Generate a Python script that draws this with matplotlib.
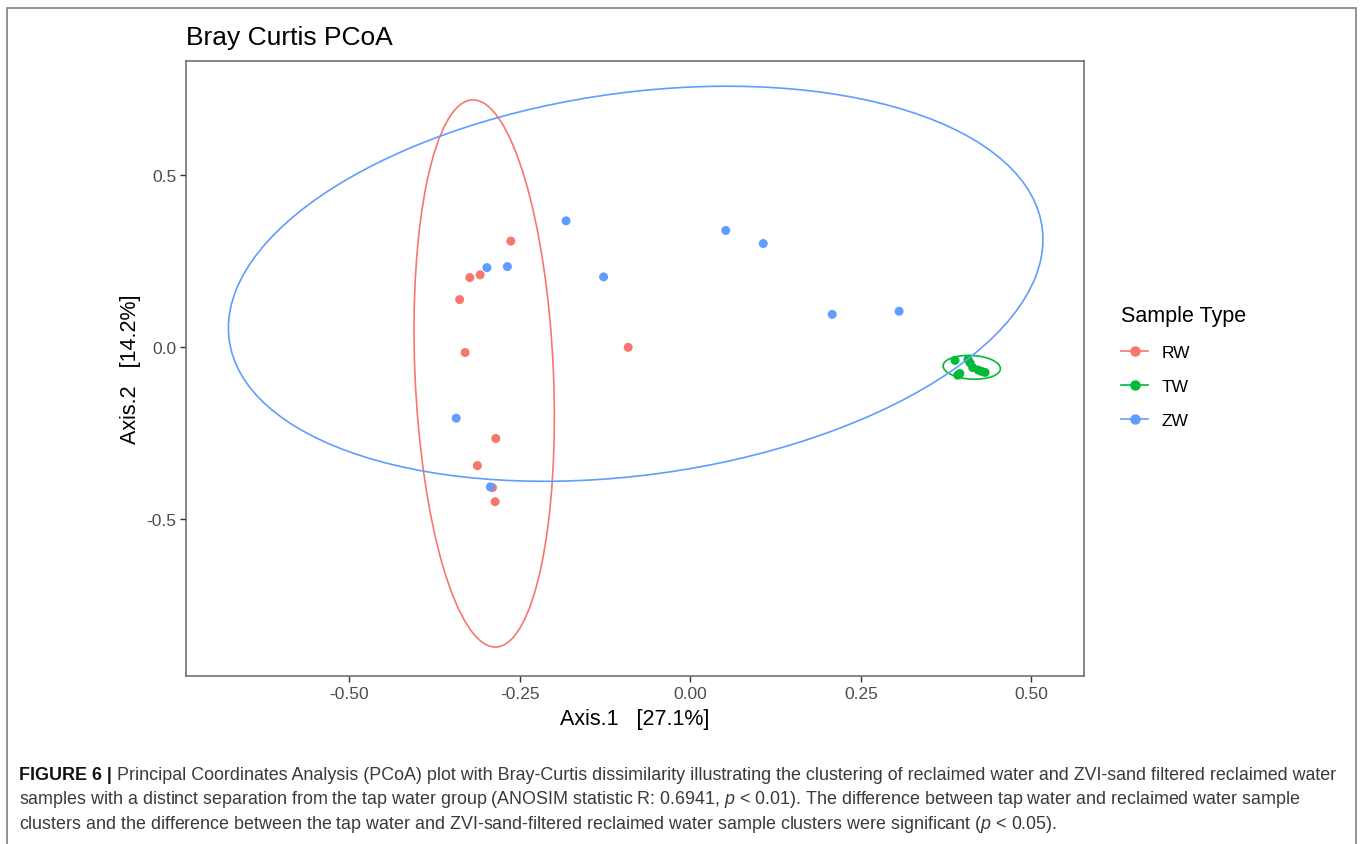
import matplotlib
matplotlib.use("Agg")
import matplotlib.pyplot as plt
from matplotlib.patches import Ellipse, Rectangle
from matplotlib.lines import Line2D

plt.rcParams['font.family'] = ['Liberation Sans', 'DejaVu Sans']
plt.rcParams['mathtext.fontset'] = 'custom'
plt.rcParams['mathtext.it'] = 'Liberation Sans:italic'
plt.rcParams['mathtext.rm'] = 'Liberation Sans'

# sample coordinates
rw_x = [-0.263, -0.323, -0.308, -0.338, -0.330, -0.091, -0.285, -0.312, -0.290, -0.286]
rw_y = [0.307, 0.201, 0.209, 0.137, -0.017, -0.002, -0.267, -0.346, -0.410, -0.451]
tw_x = [0.388, 0.392, 0.395, 0.407, 0.410, 0.414, 0.422, 0.427, 0.432]
tw_y = [-0.040, -0.083, -0.078, -0.037, -0.047, -0.061, -0.068, -0.072, -0.075]
zw_x = [-0.182, -0.298, -0.268, -0.127, -0.343, -0.293, 0.052, 0.107, 0.208, 0.306]
zw_y = [0.366, 0.230, 0.233, 0.203, -0.208, -0.408, 0.338, 0.300, 0.094, 0.103]

groups = ['RW', 'TW', 'ZW']
colors = ['#F8766D', '#00BA38', '#619CFF']

# 95% ellipses: centre x, centre y, width, height, angle
ell_cx = [-0.302, 0.4125, -0.080]
ell_cy = [-0.078, -0.060, 0.183]
ell_w = [1.592, 0.085, 1.298]
ell_h = [0.203, 0.068, 1.030]
ell_ang = [91.2, -15, 40.2]

x_ticks = [-0.50, -0.25, 0.00, 0.25, 0.50]
y_ticks = [-0.5, 0.0, 0.5]

W, H = 1360, 845
fig = plt.figure(figsize=(W / 100, H / 100), dpi=100)

# outer frame of the figure box
fig.patches.append(Rectangle((7 / W, -0.01), (1356 - 7) / W, 1.01 - 9 / H,
                             transform=fig.transFigure, fill=False,
                             edgecolor='#7f7f7f', lw=1.2))

ax = fig.add_axes([186 / W, (H - 677) / H, (1084 - 186) / W, (677 - 62) / H])

for xs, ys, c in zip([rw_x, tw_x, zw_x], [rw_y, tw_y, zw_y], colors):
    ax.scatter(xs, ys, s=42, color=c, edgecolors='none', zorder=3)

for i in range(3):
    ax.add_patch(Ellipse((ell_cx[i], ell_cy[i]), ell_w[i], ell_h[i], angle=ell_ang[i],
                         fill=False, edgecolor=colors[i], lw=1.2, zorder=4))

ax.set_xlim(-0.739, 0.577)
ax.set_ylim(-0.958, 0.831)
ax.set_xticks(x_ticks)
ax.set_xticklabels(['%.2f' % v for v in x_ticks])
ax.set_yticks(y_ticks)
ax.set_yticklabels(['%.1f' % v for v in y_ticks])
ax.tick_params(length=4, width=1, color='#333333', labelcolor='#4D4D4D',
               labelsize=12.5, pad=3)
for sp in ax.spines.values():
    sp.set_color('#666666')
    sp.set_linewidth(1.1)

ax.set_xlabel('Axis.1   [27.1%]', fontsize=15.5, labelpad=5)
ax.set_ylabel('Axis.2   [14.2%]', fontsize=15.5, labelpad=4)

fig.text(186 / W, 1 - 45 / H, 'Bray Curtis PCoA', fontsize=19, va='baseline')

handles = [Line2D([0], [0], color=c, marker='o', markersize=6.5, lw=1.2) for c in colors]
leg = fig.legend(handles, groups, title='Sample Type', loc='upper left',
                 bbox_to_anchor=(1112 / W, 1 - 297 / H), frameon=False,
                 fontsize=12.5, title_fontsize=15.5, handlelength=1.6,
                 handletextpad=0.75, labelspacing=1.1, borderpad=0,
                 alignment='left')

# caption
cap_color = '#3a3a3a'
cap_lines = [
    'Principal Coordinates Analysis (PCoA) plot with Bray-Curtis dissimilarity illustrating the clustering of reclaimed water and ZVI-sand filtered reclaimed water',
    'samples with a distinct separation from the tap water group (ANOSIM statistic R: 0.6941, $p$ < 0.01). The difference between tap water and reclaimed water sample',
    'clusters and the difference between the tap water and ZVI-sand-filtered reclaimed water sample clusters were significant ($p$ < 0.05).',
]
cap_y = [776, 800, 825]
fs = 11
r = fig.canvas.get_renderer()
head = fig.text(19 / W, 1 - cap_y[0] / H, 'FIGURE 6 |', fontsize=fs, fontweight='bold',
                va='center', color='#111111')
t1 = fig.text(0, 1 - cap_y[0] / H, cap_lines[0], fontsize=fs, va='center', color=cap_color)
# fit the first caption line to the box width
for _ in range(3):
    head.set_fontsize(fs)
    t1.set_fontsize(fs)
    hb = head.get_window_extent(r)
    t1.set_x((hb.x1 + 0.28 * fs * 100 / 72) / W)
    right = t1.get_window_extent(r).x1
    fs = fs * (1338 - 19) / (right - 19)
for line, yy in zip(cap_lines[1:], cap_y[1:]):
    fig.text(19 / W, 1 - yy / H, line, fontsize=fs, va='center', color=cap_color)

fig.savefig('out.png', dpi=100)
